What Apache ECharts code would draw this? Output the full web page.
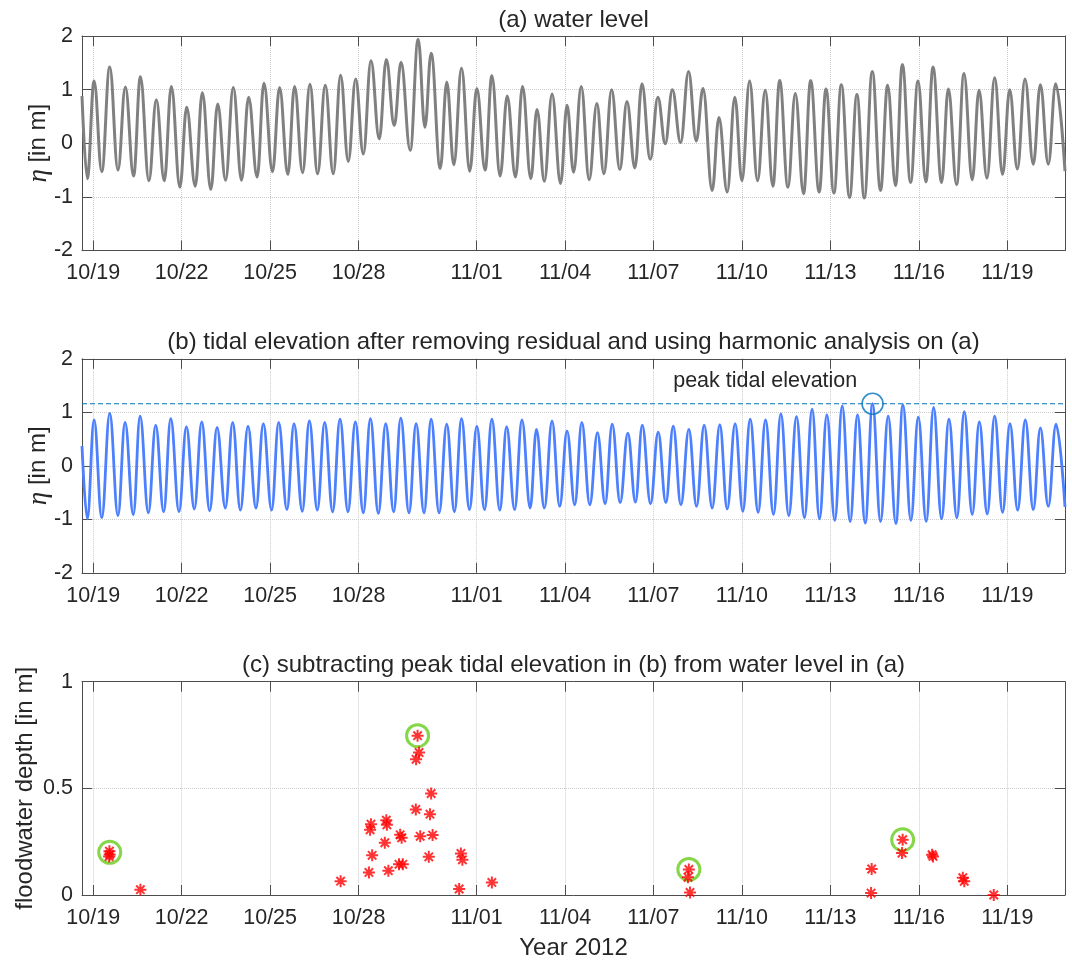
<!DOCTYPE html>
<html>
<head>
<meta charset="utf-8">
<title>Water level, tidal elevation and floodwater depth, Oct-Nov 2012</title>
<script src="https://cdn.jsdelivr.net/npm/echarts@6/dist/echarts.min.js"></script>
<style>
  html, body { margin: 0; padding: 0; background: #ffffff; }
  #chart { width: 1072px; height: 961px; }
</style>
</head>
<body>
<div id="chart"></div>
<script>
// Times are day numbers counted from 30 Sep 2012 (19 = Oct 19, 32 = Nov 1).
const tickLabels = ['10/19', '10/22', '10/25', '10/28', '11/01', '11/04', '11/07', '11/10', '11/13', '11/16', '11/19'];
const xStart = 18.62;
const xEnd = 51.956;

const panelTitles = [
  '(a) water level',
  '(b) tidal elevation after removing residual and using harmonic analysis on (a)',
  '(c) subtracting peak tidal elevation in (b) from water level in (a)'
];

// (a) measured water level: successive highs and lows (m)
const levelDays = [
  18.62, 18.80, 19.03, 19.29, 19.56, 19.84, 20.09, 20.37, 20.60, 20.89,
  21.14, 21.41, 21.65, 21.94, 22.17, 22.46, 22.70, 22.99, 23.22, 23.49,
  23.75, 24.03, 24.27, 24.56, 24.79, 25.08, 25.32, 25.60, 25.83, 26.10,
  26.35, 26.61, 26.87, 27.14, 27.39, 27.65, 27.90, 28.16, 28.42, 28.70,
  28.94, 29.21, 29.44, 29.75, 30.02, 30.25, 30.46, 30.77, 30.99, 31.23,
  31.49, 31.77, 32.01, 32.29, 32.52, 32.80, 33.04, 33.32, 33.56, 33.84,
  34.05, 34.30, 34.56, 34.85, 35.07, 35.29, 35.55, 35.82, 36.08, 36.32,
  36.58, 36.86, 37.10, 37.37, 37.61, 37.89, 38.15, 38.40, 38.64, 38.92,
  39.19, 39.45, 39.68, 39.99, 40.22, 40.50, 40.76, 41.00, 41.26, 41.53,
  41.79, 42.05, 42.28, 42.56, 42.81, 43.09, 43.33, 43.62, 43.85, 44.12,
  44.37, 44.65, 44.90, 45.15, 45.42, 45.70, 45.94, 46.21, 46.44, 46.72,
  46.97, 47.24, 47.48, 47.77, 48.00, 48.28, 48.53, 48.81, 49.04, 49.31,
  49.57, 49.84, 50.08, 50.34, 50.60, 50.88, 51.12, 51.39, 51.64, 51.956
];
const levelValues = [
  0.88, -0.66, 1.16, -0.53, 1.42, -0.50, 1.05, -0.61, 1.24, -0.70,
  0.81, -0.70, 1.06, -0.82, 0.67, -0.80, 0.94, -0.86, 0.73, -0.69,
  1.04, -0.69, 0.86, -0.63, 1.12, -0.53, 1.04, -0.58, 1.06, -0.55,
  1.10, -0.57, 1.08, -0.57, 1.27, -0.34, 1.20, -0.20, 1.54, 0.08,
  1.56, 0.33, 1.51, -0.13, 1.94, 0.30, 1.68, -0.47, 1.14, -0.40,
  1.40, -0.52, 1.02, -0.50, 1.26, -0.61, 0.88, -0.63, 1.06, -0.66,
  0.63, -0.71, 0.92, -0.75, 0.71, -0.54, 1.06, -0.68, 0.74, -0.57,
  1.00, -0.49, 0.78, -0.46, 1.11, -0.30, 0.86, -0.01, 1.00, 0.01,
  1.34, 0.04, 1.02, -0.88, 0.48, -0.91, 0.86, -0.70, 1.16, -0.70,
  0.99, -0.80, 1.17, -0.82, 0.93, -0.94, 1.17, -0.91, 1.01, -0.93,
  1.09, -1.01, 0.91, -1.02, 1.34, -0.88, 1.08, -0.79, 1.47, -0.73,
  1.16, -0.72, 1.42, -0.73, 1.01, -0.77, 1.30, -0.68, 0.99, -0.65,
  1.22, -0.58, 1.00, -0.48, 1.20, -0.39, 1.09, -0.39, 1.11, -0.52
];

// (b) harmonic tidal elevation: successive highs and lows (m)
const tideDays = [
  18.62, 18.80, 19.03, 19.29, 19.56, 19.84, 20.08, 20.36, 20.59, 20.87,
  21.12, 21.39, 21.63, 21.91, 22.16, 22.43, 22.68, 22.95, 23.20, 23.48,
  23.73, 23.99, 24.25, 24.52, 24.77, 25.05, 25.29, 25.57, 25.81, 26.09,
  26.33, 26.60, 26.85, 27.12, 27.37, 27.64, 27.89, 28.16, 28.40, 28.67,
  28.92, 29.19, 29.43, 29.71, 29.95, 30.22, 30.46, 30.73, 30.99, 31.25,
  31.49, 31.76, 32.01, 32.27, 32.52, 32.79, 33.02, 33.29, 33.54, 33.82,
  34.03, 34.30, 34.56, 34.82, 35.07, 35.33, 35.57, 35.84, 36.10, 36.36,
  36.60, 36.87, 37.13, 37.39, 37.62, 37.90, 38.16, 38.42, 38.67, 38.93,
  39.20, 39.46, 39.72, 39.99, 40.25, 40.50, 40.77, 41.03, 41.28, 41.55,
  41.80, 42.07, 42.32, 42.59, 42.85, 43.12, 43.38, 43.63, 43.88, 44.15,
  44.40, 44.67, 44.92, 45.18, 45.43, 45.70, 45.96, 46.22, 46.46, 46.73,
  46.98, 47.25, 47.50, 47.77, 48.02, 48.29, 48.54, 48.81, 49.05, 49.32,
  49.57, 49.84, 50.09, 50.35, 50.61, 50.88, 51.12, 51.39, 51.65, 51.956
];
const tideValues = [
  0.37, -0.99, 0.86, -0.97, 0.98, -0.93, 0.81, -0.91, 0.93, -0.88,
  0.76, -0.86, 0.88, -0.86, 0.73, -0.81, 0.82, -0.84, 0.72, -0.79,
  0.81, -0.83, 0.74, -0.79, 0.79, -0.83, 0.81, -0.82, 0.79, -0.85,
  0.84, -0.83, 0.81, -0.86, 0.87, -0.86, 0.82, -0.88, 0.88, -0.89,
  0.79, -0.86, 0.89, -0.88, 0.79, -0.88, 0.87, -0.88, 0.78, -0.86,
  0.88, -0.82, 0.74, -0.82, 0.87, -0.83, 0.73, -0.82, 0.86, -0.79,
  0.68, -0.79, 0.84, -0.76, 0.65, -0.73, 0.81, -0.73, 0.62, -0.71,
  0.78, -0.69, 0.61, -0.68, 0.76, -0.71, 0.63, -0.69, 0.74, -0.73,
  0.68, -0.76, 0.76, -0.79, 0.77, -0.81, 0.79, -0.85, 0.87, -0.87,
  0.86, -0.91, 0.97, -0.93, 0.92, -0.97, 1.06, -0.99, 0.95, -1.02,
  1.12, -1.04, 0.95, -1.07, 1.16, -1.04, 0.93, -1.08, 1.14, -1.02,
  0.91, -1.04, 1.09, -0.99, 0.87, -0.97, 1.01, -0.91, 0.82, -0.90,
  0.93, -0.87, 0.79, -0.83, 0.86, -0.82, 0.71, -0.76, 0.78, -0.77
];
const peakTideDay = 45.43;
const peakTide = 1.16;
const noteText = 'peak tidal elevation';
const noteDay = 41.79;
const noteLevel = 1.58;

// (c) floodwater depth above the peak tidal elevation (m)
const floodDays = [
  19.55, 19.56, 19.54, 20.60, 27.39, 28.35, 28.39, 28.42, 28.46, 28.89,
  28.94, 28.96, 29.01, 29.41, 29.46, 29.37, 29.50, 29.94, 29.95, 30.05,
  30.00, 30.09, 30.38, 30.42, 30.46, 30.51, 31.41, 31.47, 31.52, 32.52,
  39.17, 39.20, 39.24, 45.38, 45.40, 46.43, 46.45, 47.45, 47.48, 48.49,
  48.54, 49.54
];
const floodDepths = [
  0.205, 0.190, 0.180, 0.025, 0.065, 0.106, 0.306, 0.332, 0.186, 0.245,
  0.351, 0.329, 0.114, 0.282, 0.268, 0.144, 0.144, 0.401, 0.636, 0.668,
  0.747, 0.275, 0.179, 0.379, 0.476, 0.281, 0.028, 0.195, 0.165, 0.059,
  0.083, 0.120, 0.012, 0.009, 0.122, 0.197, 0.259, 0.189, 0.181, 0.081,
  0.064, 0.000
];
// highest depth of each flooding event
const eventDays = [19.56, 30.00, 39.20, 46.45];
const eventDepths = [0.200, 0.747, 0.120, 0.259];

const FONT = 'Liberation Sans';
const INK = '#262626';
const FRAME = '#4d4d4d';
const GRID_LINE = '#cdcdcd';
const PEAK_BLUE = '#0072bd';
const TICK_FONT = 21.5;
const LABEL_FONT = 24;

const dayOf = s => { const p = s.split('/').map(Number); return p[0] === 10 ? p[1] : 31 + p[1]; };
const tickDays = tickLabels.map(dayOf);
const tickText = {};
tickDays.forEach((d, i) => { tickText[d] = tickLabels[i]; });

const pairs = (xs, ys) => xs.map((x, i) => [x, ys[i]]);

const frameLine = { show: true, onZero: false, lineStyle: { color: FRAME, width: 1 } };
const innerTick = { show: true, inside: true, length: 10, lineStyle: { color: FRAME, width: 1 } };
const dotted = { show: true, lineStyle: { type: 'dotted', color: GRID_LINE, width: 1 } };
const textStyle = (size) => ({ fontSize: size, fontFamily: FONT, color: INK });

function xAxes(gi, title, name) {
  return [
    {
      type: 'value', gridIndex: gi, position: 'bottom', min: xStart, max: xEnd,
      axisLine: frameLine,
      axisTick: Object.assign({ customValues: tickDays }, innerTick),
      axisLabel: Object.assign({ customValues: tickDays, margin: 12, formatter: v => tickText[v] || '' }, textStyle(TICK_FONT)),
      splitLine: dotted,
      name: name || '', nameLocation: 'middle', nameGap: 41, nameMoveOverlap: false,
      nameTextStyle: textStyle(LABEL_FONT)
    },
    {
      type: 'value', gridIndex: gi, position: 'top', min: xStart, max: xEnd,
      axisLine: frameLine,
      axisTick: Object.assign({ customValues: tickDays }, innerTick),
      axisLabel: { show: false },
      splitLine: { show: false },
      name: title, nameLocation: 'middle', nameGap: 4, nameMoveOverlap: false,
      nameTextStyle: textStyle(LABEL_FONT)
    }
  ];
}

function yAxes(gi, min, max, step, name, gap) {
  return [
    {
      type: 'value', gridIndex: gi, position: 'left', min: min, max: max, interval: step,
      axisLine: frameLine, axisTick: innerTick,
      axisLabel: Object.assign({ margin: 9 }, textStyle(TICK_FONT)),
      splitLine: dotted,
      name: name, nameLocation: 'middle', nameGap: gap, nameRotate: 90, nameMoveOverlap: false,
      nameTextStyle: Object.assign({
        rich: { eta: { fontSize: 27, fontFamily: 'Liberation Serif', fontStyle: 'italic', color: INK } }
      }, textStyle(LABEL_FONT))
    },
    {
      type: 'value', gridIndex: gi, position: 'right', min: min, max: max, interval: step,
      axisLine: frameLine, axisTick: innerTick,
      axisLabel: { show: false }, splitLine: { show: false }
    }
  ];
}

const asterisk = 'path://M10,0L10,20M0,10L20,10M3,3L17,17M3,17L17,3';

const option = {
  animation: false,
  backgroundColor: '#ffffff',
  grid: [
    { left: 82, top: 36, width: 983, height: 214.5, outerBoundsMode: 'none' },
    { left: 82, top: 358.8, width: 983, height: 214, outerBoundsMode: 'none' },
    { left: 82, top: 681.7, width: 983, height: 213.3, outerBoundsMode: 'none' }
  ],
  xAxis: [].concat(
    xAxes(0, panelTitles[0]),
    xAxes(1, panelTitles[1]),
    xAxes(2, panelTitles[2], 'Year 2012')
  ),
  yAxis: [].concat(
    yAxes(0, -2, 2, 1, '{eta|η} [in m]', 30),
    yAxes(1, -2, 2, 1, '{eta|η} [in m]', 30),
    yAxes(2, 0, 1, 0.5, 'floodwater depth [in m]', 45)
  ),
  series: [
    {
      name: 'water level', type: 'line', xAxisIndex: 0, yAxisIndex: 0,
      data: pairs(levelDays, levelValues),
      smooth: 0.4, smoothMonotone: 'x', symbol: 'none', silent: true,
      lineStyle: { color: '#808080', width: 3 }
    },
    {
      name: 'peak tidal elevation', type: 'line', xAxisIndex: 2, yAxisIndex: 2,
      data: [[xStart, peakTide], [xEnd, peakTide]], symbol: 'none', silent: true, z: 1,
      lineStyle: { color: PEAK_BLUE, width: 1.2, type: [5, 3] }
    },
    {
      name: 'tidal elevation', type: 'line', xAxisIndex: 2, yAxisIndex: 2,
      data: pairs(tideDays, tideValues),
      smooth: 0.4, smoothMonotone: 'x', symbol: 'none', silent: true, z: 2,
      lineStyle: { color: '#4d80ff', width: 2.8 }
    },
    {
      name: 'peak tide', type: 'scatter', xAxisIndex: 2, yAxisIndex: 2,
      data: [[peakTideDay, peakTide]], symbol: 'circle', symbolSize: 21, silent: true, z: 3,
      itemStyle: { color: 'rgba(0,0,0,0)', borderColor: PEAK_BLUE, borderWidth: 1.6 }
    },
    {
      name: 'events', type: 'scatter', xAxisIndex: 4, yAxisIndex: 4,
      data: pairs(eventDays, eventDepths), symbol: 'circle', symbolSize: 22, silent: true, z: 2,
      itemStyle: { color: 'rgba(0,0,0,0)', borderColor: '#66cc1a', borderWidth: 3 }
    },
    {
      name: 'floodwater depth', type: 'scatter', xAxisIndex: 4, yAxisIndex: 4,
      data: pairs(floodDays, floodDepths), symbol: asterisk, symbolSize: 12, silent: true, z: 3,
      clip: false,
      itemStyle: { color: '#ff0000', borderColor: '#ff0000', borderWidth: 2 }
    }
  ]
};

const chart = echarts.init(document.getElementById('chart'), null, { renderer: 'canvas' });
chart.setOption(option);

// annotation for the dashed line, placed in panel (b) data coordinates
const notePos = chart.convertToPixel({ xAxisIndex: 2, yAxisIndex: 2 }, [noteDay, noteLevel]);
chart.setOption({
  graphic: [{
    type: 'text', x: notePos[0], y: notePos[1], silent: true, z: 10,
    style: {
      text: noteText, fill: INK, font: TICK_FONT + 'px ' + FONT,
      align: 'center', verticalAlign: 'middle'
    }
  }]
});
</script>
</body>
</html>
